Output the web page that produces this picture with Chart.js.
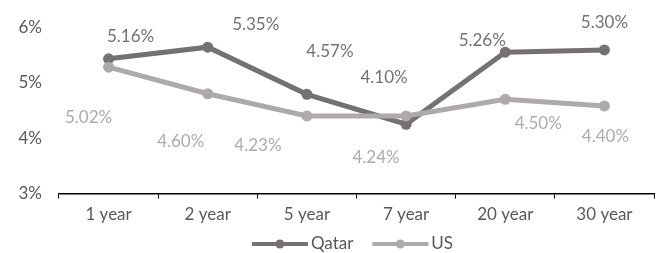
<!DOCTYPE html>
<html>
<head>
<meta charset="utf-8">
<script src="https://cdn.jsdelivr.net/npm/chart.js@4/dist/chart.umd.min.js"></script>
<style>
  html, body { margin: 0; padding: 0; background: #fff; }
  #wrap { width: 662px; height: 253px; }
</style>
</head>
<body>
<div id="wrap"><canvas id="canvas" width="662" height="253"></canvas></div>
<script>
// data
const categories = ['1 year', '2 year', '5 year', '7 year', '20 year', '30 year'];
const qatarValues = [5.43, 5.64, 4.79, 4.25, 5.55, 5.59];
const usValues = [5.28, 4.80, 4.40, 4.40, 4.70, 4.58];
// data label texts as printed on the chart
const qatarLabels = ['5.16%', '5.35%', '4.57%', '4.10%', '5.26%', '5.30%'];
const usLabels = ['5.02%', '4.60%', '4.23%', '4.24%', '4.50%', '4.40%'];
const yTicks = [3, 4, 5, 6];

// where each data label sits relative to its point (px)
const qatarLabelShift = [[22, -22], [48, -23], [23, -43], [-22, -47], [-23, -12], [0, -27]];
const usLabelShift = [[-20, 50], [-27, 48], [-49, 30], [-30, 42], [33, 24], [1, 31]];

const qatarColor = '#767171';
const usColor = '#AEAAAA';
const textColor = '#595959';
const font = 'Lato';

const dataLabels = {
  id: 'dataLabels',
  afterDatasetsDraw(chart) {
    const ctx = chart.ctx;
    const sets = [[qatarLabels, qatarLabelShift, qatarColor], [usLabels, usLabelShift, usColor]];
    ctx.save();
    ctx.font = '17px ' + font;
    ctx.textAlign = 'center';
    ctx.textBaseline = 'middle';
    sets.forEach((s, di) => {
      const meta = chart.getDatasetMeta(di);
      meta.data.forEach((pt, i) => {
        ctx.fillStyle = s[2];
        ctx.fillText(s[0][i], pt.x + s[1][i][0], pt.y + s[1][i][1]);
      });
    });
    ctx.restore();
  }
};

// excel style legend: line + marker, centred under the plot
const lineLegend = {
  id: 'lineLegend',
  afterDraw(chart) {
    const ctx = chart.ctx;
    const area = chart.chartArea;
    const y = 244;
    const iconW = 56, gap = 3, between = 19;
    ctx.save();
    ctx.font = '17px ' + font;
    ctx.textBaseline = 'middle';
    const items = chart.data.datasets.map(d => ({ text: d.label, color: d.borderColor, w: ctx.measureText(d.label).width }));
    let total = 0;
    items.forEach((it, i) => { total += iconW + gap + it.w + (i ? between : 0); });
    let x = (area.left + area.right) / 2 - 4 - total / 2;
    items.forEach(it => {
      ctx.strokeStyle = it.color;
      ctx.lineWidth = 4;
      ctx.beginPath();
      ctx.moveTo(x, y); ctx.lineTo(x + iconW, y);
      ctx.stroke();
      ctx.fillStyle = it.color;
      ctx.beginPath();
      ctx.arc(x + iconW / 2, y, 4.5, 0, Math.PI * 2);
      ctx.fill();
      ctx.fillStyle = textColor;
      ctx.fillText(it.text, x + iconW + gap, y);
      x += iconW + gap + it.w + between;
    });
    ctx.restore();
  }
};

const ctx = document.getElementById('canvas');
new Chart(ctx, {
  type: 'line',
  data: {
    labels: categories,
    datasets: [{
      label: 'Qatar',
      data: qatarValues,
      borderColor: qatarColor,
      backgroundColor: qatarColor,
      borderWidth: 5,
      pointRadius: 5.5,
      pointBorderWidth: 0,
      order: 1
    }, {
      label: 'US',
      data: usValues,
      borderColor: usColor,
      backgroundColor: usColor,
      borderWidth: 5,
      pointRadius: 5.5,
      pointBorderWidth: 0,
      order: 0
    }]
  },
  options: {
    responsive: false,
    animation: false,
    layout: { padding: { top: 27, right: 8, left: 0, bottom: 22 } },
    plugins: {
      tooltip: { enabled: false },
      legend: { display: false }
    },
    scales: {
      x: {
        offset: true,
        grid: { offset: true, drawOnChartArea: false, drawTicks: true, tickLength: 5, color: '#000' },
        border: { display: true, color: '#000', width: 1.5 },
        ticks: { color: textColor, font: { family: font, size: 17 }, padding: 6 }
      },
      y: {
        min: 3,
        max: 6,
        afterBuildTicks(scale) { scale.ticks = yTicks.map(v => ({ value: v })); },
        afterFit(scale) { scale.width = 59; },
        grid: { display: false, drawTicks: false },
        border: { display: false },
        ticks: {
          color: textColor,
          font: { family: font, size: 17 },
          padding: 17,
          callback: v => v + '%'
        }
      }
    }
  },
  plugins: [dataLabels, lineLegend]
});
</script>
</body>
</html>
